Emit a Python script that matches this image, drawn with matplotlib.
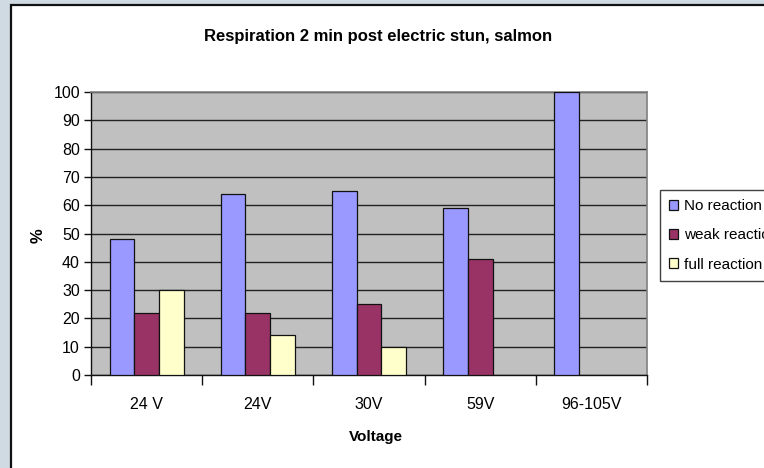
import matplotlib.pyplot as plt
import matplotlib.patches as mpatches
import numpy as np

# data
categories = ['24 V', '24V', '30V', '59V', '96-105V']
no_reaction = [48, 64, 65, 59, 100]
weak_reaction = [22, 22, 25, 41, 0]
full_reaction = [30, 14, 10, 0, 0]
series_names = ['No reaction', 'weak reaction', 'full reaction']
y_ticks = list(range(0, 101, 10))

plt.rcParams['font.family'] = ['Liberation Sans', 'DejaVu Sans']

W, H = 764, 468
fig = plt.figure(figsize=(W / 100, H / 100), dpi=100)
fig.patch.set_facecolor('#CFDAE2')

# white chart area with dark border
frame = mpatches.Rectangle((11 / W, -0.1), 1.2, 1.1 - 5 / H,
                           transform=fig.transFigure, facecolor='white',
                           edgecolor='#111111', linewidth=1.6, zorder=-5)
fig.patches.append(frame)

ax = fig.add_axes([91 / W, 1 - 375 / H, (647 - 91) / W, (375 - 92) / H])
ax.set_facecolor('#C0C0C0')

x = np.arange(len(categories))
w = 0.222
colors = ['#9999FF', '#993366', '#FFFFCC']
for i, (vals, name, c) in enumerate(zip([no_reaction, weak_reaction, full_reaction],
                                         series_names, colors)):
    vals = np.array(vals, dtype=float)
    ax.bar(x + (i - 1) * w, np.where(vals > 0, vals, np.nan), w, color=c,
           edgecolor='#111111', linewidth=0.9, label=name, zorder=3)

ax.set_xlim(-0.5, len(categories) - 0.5)
ax.set_ylim(0, 100)
ax.set_yticks(y_ticks)
ax.yaxis.grid(True, color='#222222', linewidth=1.0, zorder=1)
ax.set_axisbelow(True)

# category boundaries get the tick marks, labels sit between them
ax.set_xticks(np.arange(len(categories) + 1) - 0.5)
ax.set_xticklabels([])
ax.set_xticks(x, minor=True)
ax.set_xticklabels(categories, minor=True)
ax.tick_params(axis='x', which='major', length=7, width=1, color='#111111')
ax.tick_params(axis='x', which='minor', length=0, pad=16, labelsize=11.5)
ax.tick_params(axis='y', length=5, width=1, color='#111111', labelsize=11.5, pad=3)

for s in ['top', 'right']:
    ax.spines[s].set_color('#808080')
    ax.spines[s].set_linewidth(1.2)
for s in ['left', 'bottom']:
    ax.spines[s].set_color('#111111')
    ax.spines[s].set_linewidth(1.0)

fig.text(378 / W, 1 - 37 / H, 'Respiration 2 min post electric stun, salmon',
         ha='center', va='center', fontsize=12, fontweight='bold')
fig.text(376 / W, 1 - 437 / H, 'Voltage', ha='center', va='center',
         fontsize=11, fontweight='bold')
fig.text(38 / W, 1 - 236 / H, '%', ha='center', va='center', rotation=90,
         fontsize=12, fontweight='bold')

leg = fig.legend(loc='upper left', bbox_to_anchor=(660 / W, 1 - 190 / H),
                 frameon=True, fancybox=False, fontsize=11, handlelength=0.6,
                 handleheight=0.6, handletextpad=0.4, labelspacing=1.0,
                 borderpad=0.6, borderaxespad=0)
leg.get_frame().set_edgecolor('#111111')
leg.get_frame().set_linewidth(1.0)

fig.savefig('out.png', dpi=100, facecolor=fig.get_facecolor())
